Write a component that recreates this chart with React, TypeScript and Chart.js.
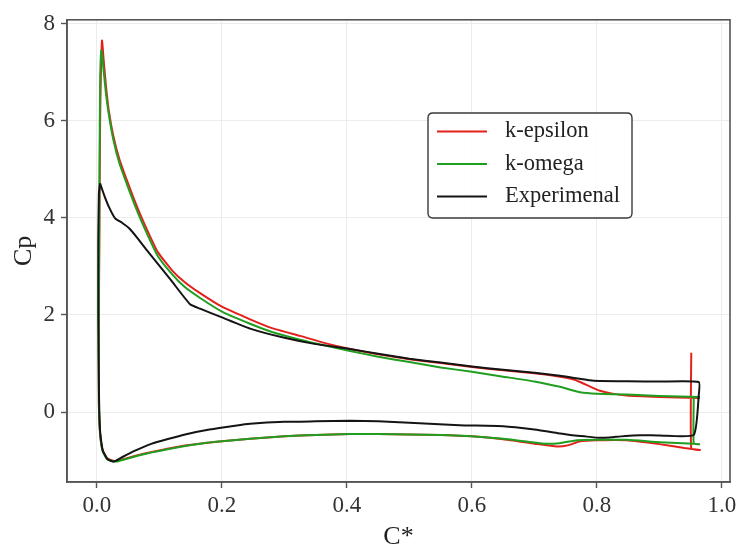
import React, { useEffect, useRef } from "react";
import { Chart, registerables } from "chart.js";
Chart.register(...registerables);

const xTicks = [0, 0.2, 0.4, 0.6, 0.8, 1.0];
const yTicks = [0, 2, 4, 6, 8];
const seriesNames = ["k-epsilon", "k-omega", "Experimenal"];
const seriesColors = ["#e3211c", "#1f9e1f", "#141414"];
const xTitle = "C*";
const yTitle = "Cp";

// k-epsilon: upper surface (TE -> LE), leading edge, lower surface (LE -> TE), trailing edge
const epsX = [
  0.965, 0.93, 0.9, 0.848, 0.825, 0.805, 0.79, 0.773, 0.76, 0.741, 0.7, 0.65, 0.6, 0.55, 0.5, 0.45, 0.405, 0.365,
  0.325, 0.28, 0.245, 0.2, 0.165, 0.14, 0.12, 0.097, 0.082, 0.065, 0.05, 0.036, 0.026, 0.019, 0.0145, 0.011, 0.008,
  0.005, 0.004, 0.003, 0.003, 0.005, 0.009, 0.016, 0.028,
  0.045, 0.065, 0.088, 0.115, 0.141, 0.17, 0.2, 0.245, 0.3, 0.35, 0.405, 0.45, 0.5, 0.55, 0.6, 0.65, 0.7, 0.736,
  0.755, 0.773, 0.8, 0.848, 0.9, 0.94, 0.965,
  0.951, 0.951,
];
const epsY = [
  0.29, 0.3, 0.31, 0.34, 0.38, 0.44, 0.52, 0.62, 0.68, 0.73, 0.8, 0.86, 0.93, 1.01, 1.09, 1.19, 1.3, 1.42,
  1.57, 1.73, 1.91, 2.17, 2.45, 2.68, 2.92, 3.3, 3.7, 4.2, 4.7, 5.2, 5.7, 6.2, 6.7, 7.2, 7.65,
  6.0, 4.0, 2.0, 0.2, -0.45, -0.78, -0.95, -1.01,
  -0.96, -0.89, -0.82, -0.75, -0.69, -0.64, -0.6, -0.55, -0.5, -0.47, -0.45, -0.45, -0.46, -0.47, -0.5, -0.56, -0.65, -0.71,
  -0.68, -0.6, -0.58, -0.58, -0.66, -0.74, -0.78,
  -0.75, 1.22,
];

// k-omega
const omgX = [
  0.965, 0.9, 0.848, 0.8, 0.773, 0.755, 0.741, 0.7, 0.65, 0.6, 0.55, 0.5, 0.45, 0.405, 0.365, 0.325, 0.28, 0.245,
  0.2, 0.165, 0.14, 0.12, 0.097, 0.082, 0.065, 0.05, 0.036, 0.026, 0.019, 0.014, 0.0105, 0.007,
  0.005, 0.004, 0.003, 0.003, 0.005, 0.009, 0.016, 0.03,
  0.045, 0.065, 0.088, 0.115, 0.141, 0.17, 0.2, 0.245, 0.3, 0.35, 0.405, 0.45, 0.5, 0.55, 0.6, 0.65, 0.69, 0.715,
  0.74, 0.768, 0.8, 0.848, 0.901, 0.955, 0.965,
  0.955, 0.955,
];
const omgY = [
  0.31, 0.33, 0.36, 0.38, 0.41, 0.47, 0.52, 0.63, 0.73, 0.83, 0.92, 1.03, 1.14, 1.26, 1.37, 1.49, 1.65, 1.82,
  2.07, 2.35, 2.58, 2.84, 3.22, 3.62, 4.12, 4.62, 5.12, 5.62, 6.12, 6.6, 7.05, 7.45,
  6.8, 5.0, 2.0, 0.2, -0.45, -0.8, -0.97, -1.02,
  -0.97, -0.9, -0.83, -0.76, -0.7, -0.64, -0.6, -0.55, -0.5, -0.47, -0.45, -0.45, -0.46, -0.47, -0.5, -0.55, -0.61, -0.65,
  -0.64, -0.58, -0.57, -0.57, -0.62, -0.65, -0.66,
  -0.65, 0.31,
];

// Experimental: upper (LE -> TE), trailing edge, lower (TE -> LE), leading edge
const expX = [
  0.005, 0.012, 0.02, 0.029, 0.04, 0.051, 0.065, 0.08, 0.1, 0.12, 0.149, 0.165, 0.2, 0.245, 0.3, 0.35, 0.405, 0.45,
  0.5, 0.55, 0.6, 0.65, 0.7, 0.741, 0.77, 0.795, 0.85, 0.9, 0.963,
  0.963, 0.955,
  0.9, 0.858, 0.83, 0.805, 0.78, 0.757, 0.741, 0.7, 0.65, 0.58, 0.5, 0.45, 0.405, 0.35, 0.3, 0.245, 0.221, 0.18,
  0.141, 0.115, 0.088, 0.06, 0.04, 0.027, 0.017, 0.009,
  0.005, 0.003, 0.002, 0.002, 0.003, 0.005,
];
const expY = [
  4.71, 4.45, 4.2, 3.99, 3.9, 3.79, 3.58, 3.33, 3.01, 2.69, 2.22, 2.13, 1.95, 1.72, 1.53, 1.4, 1.3, 1.2,
  1.1, 1.02, 0.94, 0.87, 0.81, 0.75, 0.69, 0.645, 0.635, 0.63, 0.62,
  0.35, -0.47,
  -0.48, -0.48, -0.51, -0.53, -0.5, -0.47, -0.44, -0.36, -0.29, -0.27, -0.22, -0.19, -0.18, -0.19, -0.2, -0.24, -0.28, -0.36,
  -0.46, -0.55, -0.65, -0.8, -0.93, -1.02, -0.97, -0.78,
  -0.4, 0.5, 2.0, 3.5, 4.5, 4.71,
];

const xMin = -0.048;
const xMax = 1.013;
const yMin = -1.44;
const yMax = 8.08;

const FONT = "'Liberation Serif', 'Times New Roman', serif";

function toPoints(xs: number[], ys: number[]) {
  return xs.map((x, i) => ({ x, y: ys[i] }));
}

const framePlugin = {
  id: "frameAndLegend",
  afterDraw(chart: any) {
    const { ctx, chartArea } = chart;
    const { left, right, top, bottom } = chartArea;
    ctx.save();
    // frame
    ctx.strokeStyle = "#555555";
    ctx.lineWidth = 1.6;
    ctx.strokeRect(left, top, right - left, bottom - top);

    // axis titles
    ctx.fillStyle = "#222222";
    ctx.font = `26px ${FONT}`;
    ctx.textAlign = "center";
    ctx.textBaseline = "alphabetic";
    ctx.fillText(xTitle, (left + right) / 2, 544);
    ctx.save();
    ctx.translate(31, (top + bottom) / 2);
    ctx.rotate(-Math.PI / 2);
    ctx.fillText(yTitle, 0, 0);
    ctx.restore();

    // legend
    const bx = 428, by = 113, bw = 204, bh = 105, r = 5;
    ctx.beginPath();
    ctx.moveTo(bx + r, by);
    ctx.lineTo(bx + bw - r, by);
    ctx.quadraticCurveTo(bx + bw, by, bx + bw, by + r);
    ctx.lineTo(bx + bw, by + bh - r);
    ctx.quadraticCurveTo(bx + bw, by + bh, bx + bw - r, by + bh);
    ctx.lineTo(bx + r, by + bh);
    ctx.quadraticCurveTo(bx, by + bh, bx, by + bh - r);
    ctx.lineTo(bx, by + r);
    ctx.quadraticCurveTo(bx, by, bx + r, by);
    ctx.closePath();
    ctx.fillStyle = "rgba(255,255,255,0.9)";
    ctx.fill();
    ctx.strokeStyle = "#3a3a3a";
    ctx.lineWidth = 1.4;
    ctx.stroke();

    ctx.font = `22.5px ${FONT}`;
    ctx.textAlign = "left";
    ctx.textBaseline = "middle";
    seriesNames.forEach((name, i) => {
      const y = 131.5 + i * 32.5;
      ctx.strokeStyle = seriesColors[i];
      ctx.lineWidth = 2.2;
      ctx.beginPath();
      ctx.moveTo(437, y);
      ctx.lineTo(487, y);
      ctx.stroke();
      ctx.fillStyle = "#222222";
      ctx.fillText(name, 505, y);
    });
    ctx.restore();
  },
};

export default function App() {
  const canvasRef = useRef<HTMLCanvasElement | null>(null);

  useEffect(() => {
    const canvas = canvasRef.current;
    if (!canvas) return;
    const mk = (xs: number[], ys: number[], i: number, order: number) => ({
      label: seriesNames[i],
      data: toPoints(xs, ys),
      showLine: true,
      borderColor: seriesColors[i],
      backgroundColor: seriesColors[i],
      borderWidth: 2,
      pointRadius: 0,
      tension: 0.15,
      fill: false,
      order,
    });
    const chart = new Chart(canvas, {
      type: "scatter",
      data: {
        datasets: [mk(epsX, epsY, 0, 2), mk(omgX, omgY, 1, 1), mk(expX, expY, 2, 0)],
      },
      options: {
        responsive: false,
        animation: false,
        devicePixelRatio: 1,
        layout: { padding: { left: 0, right: 12, top: 17, bottom: 0 } },
        plugins: { legend: { display: false }, tooltip: { enabled: false } },
        scales: {
          x: {
            type: "linear",
            min: xMin,
            max: xMax,
            afterBuildTicks: (s: any) => {
              s.ticks = xTicks.map((v) => ({ value: v }));
            },
            afterFit: (s: any) => {
              s.height = 65;
            },
            grid: { color: "#ececec", lineWidth: 1, tickLength: 6, tickColor: "#555555", tickWidth: 1.4 },
            border: { display: true, color: "#555555", width: 1.6 },
            ticks: {
              color: "#333333",
              font: { family: FONT, size: 23 },
              padding: 4,
              maxRotation: 0,
              callback: (v: any) => Number(v).toFixed(1),
            },
          },
          y: {
            type: "linear",
            min: yMin,
            max: yMax,
            afterBuildTicks: (s: any) => {
              s.ticks = yTicks.map((v) => ({ value: v }));
            },
            afterFit: (s: any) => {
              s.width = 67;
            },
            grid: { color: "#ececec", lineWidth: 1, tickLength: 6, tickColor: "#555555", tickWidth: 1.4 },
            border: { display: true, color: "#555555", width: 1.6 },
            ticks: {
              color: "#333333",
              font: { family: FONT, size: 23 },
              padding: 6,
              callback: (v: any) => String(Math.round(Number(v))),
            },
          },
        },
      },
      plugins: [framePlugin],
    } as any);
    return () => chart.destroy();
  }, []);

  return (
    <div style={{ position: "absolute", left: 0, top: 0, width: 742, height: 547, background: "#ffffff" }}>
      <canvas ref={canvasRef} width={742} height={547} style={{ display: "block", width: 742, height: 547 }} />
    </div>
  );
}
